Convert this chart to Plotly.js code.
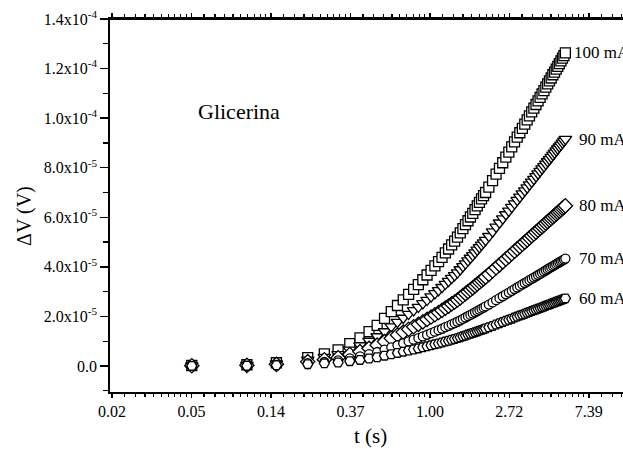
<!DOCTYPE html>
<html>
<head>
<meta charset="utf-8">
<script src="https://cdn.plot.ly/plotly-3.0.1.min.js"></script>
<style>
html,body{margin:0;padding:0;overflow:hidden;background:#fff;}
#chart{width:640px;height:449px;}
</style>
</head>
<body>
<div id="chart"></div>
<script>
// time (s)
const t = [0.05, 0.10, 0.145, 0.215, 0.265, 0.315, 0.365, 0.415, 0.465, 0.515, 0.565, 0.615, 0.665, 0.715, 0.765, 0.815, 0.865, 0.915, 0.965, 1.015,
  1.065, 1.115, 1.165, 1.215, 1.265, 1.315, 1.365, 1.415, 1.465, 1.515, 1.565, 1.615, 1.665, 1.715, 1.765, 1.815, 1.865, 1.915, 1.965, 2.015,
  2.1, 2.2, 2.3, 2.4, 2.5, 2.6, 2.7, 2.8, 2.9, 3.0, 3.1, 3.2, 3.3, 3.4, 3.5, 3.6, 3.7, 3.8, 3.9, 4.0,
  4.1, 4.2, 4.3, 4.4, 4.5, 4.6, 4.7, 4.8, 4.9, 5.0, 5.1, 5.2, 5.3, 5.4, 5.5];

// ΔV in units of 1e-5 V
const UNIT = 1e-5;
const dV100 = [0.02, 0.05, 0.13, 0.34, 0.49, 0.65, 0.90, 1.13, 1.39, 1.64, 1.92, 2.19, 2.44, 2.67, 2.89, 3.09, 3.28, 3.48, 3.67, 3.86,
  4.04, 4.21, 4.38, 4.56, 4.72, 4.89, 5.04, 5.20, 5.37, 5.54, 5.70, 5.86, 6.01, 6.16, 6.31, 6.46, 6.60, 6.74, 6.87, 7.00,
  7.22, 7.48, 7.74, 7.97, 8.20, 8.43, 8.63, 8.84, 9.04, 9.23, 9.41, 9.59, 9.76, 9.93, 10.09, 10.25, 10.40, 10.55, 10.70, 10.84,
  10.98, 11.11, 11.25, 11.38, 11.50, 11.62, 11.75, 11.86, 11.98, 12.09, 12.20, 12.31, 12.42, 12.52, 12.63];
const dV90 = [0.015, 0.036, 0.094, 0.247, 0.355, 0.471, 0.653, 0.819, 1.008, 1.189, 1.392, 1.588, 1.769, 1.936, 2.095, 2.240, 2.378, 2.523, 2.661, 2.799,
  2.929, 3.052, 3.176, 3.306, 3.422, 3.545, 3.654, 3.770, 3.893, 4.017, 4.133, 4.249, 4.357, 4.466, 4.575, 4.684, 4.785, 4.887, 4.981, 5.075,
  5.235, 5.423, 5.612, 5.778, 5.945, 6.112, 6.257, 6.409, 6.554, 6.692, 6.822, 6.953, 7.076, 7.199, 7.315, 7.431, 7.540, 7.649, 7.758, 7.859,
  7.961, 8.055, 8.156, 8.251, 8.338, 8.425, 8.519, 8.599, 8.686, 8.765, 8.845, 8.925, 9.005, 9.077, 9.157];
const dV80 = [0.010, 0.026, 0.067, 0.174, 0.251, 0.333, 0.461, 0.579, 0.712, 0.840, 0.983, 1.121, 1.249, 1.367, 1.480, 1.582, 1.679, 1.782, 1.879, 1.976,
  2.068, 2.156, 2.243, 2.335, 2.417, 2.504, 2.580, 2.662, 2.749, 2.836, 2.918, 3.000, 3.077, 3.154, 3.231, 3.308, 3.379, 3.451, 3.517, 3.584,
  3.697, 3.830, 3.963, 4.081, 4.198, 4.316, 4.419, 4.526, 4.628, 4.726, 4.818, 4.910, 4.997, 5.084, 5.166, 5.248, 5.325, 5.402, 5.478, 5.550,
  5.622, 5.688, 5.760, 5.827, 5.888, 5.949, 6.016, 6.072, 6.134, 6.190, 6.246, 6.303, 6.359, 6.410, 6.467];
const dV70 = [0.007, 0.017, 0.045, 0.117, 0.168, 0.223, 0.309, 0.388, 0.477, 0.563, 0.659, 0.751, 0.837, 0.916, 0.991, 1.060, 1.125, 1.194, 1.259, 1.324,
  1.386, 1.444, 1.502, 1.564, 1.619, 1.677, 1.729, 1.784, 1.842, 1.900, 1.955, 2.010, 2.061, 2.113, 2.164, 2.216, 2.264, 2.312, 2.356, 2.401,
  2.476, 2.566, 2.655, 2.734, 2.813, 2.891, 2.960, 3.032, 3.101, 3.166, 3.228, 3.289, 3.348, 3.406, 3.461, 3.516, 3.567, 3.619, 3.670, 3.718,
  3.766, 3.811, 3.859, 3.903, 3.945, 3.986, 4.030, 4.068, 4.109, 4.147, 4.185, 4.222, 4.260, 4.294, 4.332];
const dV60 = [0.004, 0.011, 0.028, 0.073, 0.106, 0.140, 0.194, 0.244, 0.300, 0.354, 0.415, 0.473, 0.527, 0.577, 0.624, 0.667, 0.708, 0.752, 0.793, 0.834,
  0.873, 0.909, 0.946, 0.985, 1.020, 1.056, 1.089, 1.123, 1.160, 1.197, 1.231, 1.266, 1.298, 1.331, 1.363, 1.395, 1.426, 1.456, 1.484, 1.512,
  1.560, 1.616, 1.672, 1.722, 1.771, 1.821, 1.864, 1.909, 1.953, 1.994, 2.033, 2.071, 2.108, 2.145, 2.179, 2.214, 2.246, 2.279, 2.311, 2.341,
  2.372, 2.400, 2.430, 2.458, 2.484, 2.510, 2.538, 2.562, 2.588, 2.611, 2.635, 2.659, 2.683, 2.704, 2.728];

const seriesNames = ["100 mA", "90 mA", "80 mA", "70 mA", "60 mA"];
const seriesData = [dV100, dV90, dV80, dV70, dV60];

const xTickText = ["0.02", "0.05", "0.14", "0.37", "1.00", "2.72", "7.39"];
const xTickExp = [-4, -3, -2, -1, 0, 1, 2];
const yTickVals = [0, 2e-5, 4e-5, 6e-5, 8e-5, 1.0e-4, 1.2e-4, 1.4e-4];
const yTickText = ["0.0", "2.0x10<sup>-5</sup>", "4.0x10<sup>-5</sup>", "6.0x10<sup>-5</sup>", "8.0x10<sup>-5</sup>",
  "1.0x10<sup>-4</sup>", "1.2x10<sup>-4</sup>", "1.4x10<sup>-4</sup>"];

// styles
const symbols = ["square", "triangle-down", "diamond", "circle", "hexagon2"];
const sizes = [10, 11, 11, 9, 10];
const FONT = "Liberation Serif";

const xTickVals = xTickExp.map(n => Math.exp(n));
const lnMin = -4.025, lnMax = 2.48;
const xRange = [lnMin * Math.LOG10E, lnMax * Math.LOG10E];
const yRange = [-1.05e-5, 1.4e-4];

const xMinor = [];
for (let n = -5; n <= 2; n++) {
  const a = Math.exp(n), b = Math.exp(n + 1);
  for (let k = 1; k <= 9; k++) {
    const v = a + k * (b - a) / 10;
    if (Math.log(v) > lnMin && Math.log(v) < lnMax) xMinor.push(v);
  }
}
const yMinor = [];
for (let k = -1; k <= 13; k += 2) yMinor.push(k * 1e-5);

const traces = seriesData.map((arr, i) => ({
  x: t,
  y: arr.map(v => v * UNIT),
  type: "scatter",
  mode: "markers",
  name: seriesNames[i],
  marker: { symbol: symbols[i], size: sizes[i], color: "white", line: { color: "black", width: 1.3 } },
  hoverinfo: "x+y+name"
}));

const labelX = [0.894, 0.903, 0.903, 0.903, 0.903];
const annotations = seriesData.map((arr, i) => ({
  xref: "paper", yref: "y", x: labelX[i], y: arr[arr.length - 1] * UNIT,
  text: seriesNames[i], showarrow: false, xanchor: "left", yanchor: "middle",
  font: { family: FONT, size: 17, color: "black" }
}));
annotations.push({ xref: "paper", yref: "paper", x: 0.166, y: 0.751, text: "Glicerina", showarrow: false,
  xanchor: "left", yanchor: "middle", font: { family: FONT, size: 22, color: "black" } });
annotations.push({ xref: "paper", yref: "paper", x: -0.1644, y: 0.472, text: "ΔV (V)", textangle: -90, showarrow: false,
  xanchor: "center", yanchor: "middle", font: { family: FONT, size: 20, color: "black" } });
annotations.push({ xref: "paper", yref: "paper", x: 0.503, y: -0.117, text: "t (s)", showarrow: false,
  xanchor: "center", yanchor: "middle", font: { family: FONT, size: 21, color: "black" } });

const axCommon = { showgrid: false, zeroline: false, showline: true, linecolor: "black", linewidth: 1.8,
  tickcolor: "black", tickwidth: 1.5, mirror: "allticks" };

const layout = {
  width: 640, height: 449,
  margin: { l: 110, r: 13, t: 19, b: 57, pad: 0 },
  paper_bgcolor: "white", plot_bgcolor: "white",
  showlegend: false,
  xaxis: Object.assign({}, axCommon, {
    type: "log", range: xRange, tickmode: "array", tickvals: xTickVals, ticktext: xTickText,
    ticks: "outside", ticklen: 4, tickfont: { family: FONT, size: 16, color: "black" },
    minor: { tickmode: "array", tickvals: xMinor, ticks: "outside", ticklen: 3, tickwidth: 1.2, tickcolor: "black", showgrid: false }
  }),
  yaxis: Object.assign({}, axCommon, {
    range: yRange, tickmode: "array", tickvals: yTickVals, ticktext: yTickText,
    ticks: "outside", ticklen: 8, tickfont: { family: FONT, size: 16, color: "black" },
    minor: { tickmode: "array", tickvals: yMinor, ticks: "outside", ticklen: 5, tickwidth: 1.2, tickcolor: "black", showgrid: false }
  }),
  // plot frame (top edge), in case the mirrored axis line is not drawn
  shapes: [{ type: "line", xref: "paper", yref: "paper", x0: 0, x1: 1, y0: 1, y1: 1,
    line: { color: "black", width: 1.8 }, layer: "above" }],
  annotations: annotations
};

Plotly.newPlot("chart", traces, layout, { staticPlot: true, displayModeBar: false });
</script>
</body>
</html>
